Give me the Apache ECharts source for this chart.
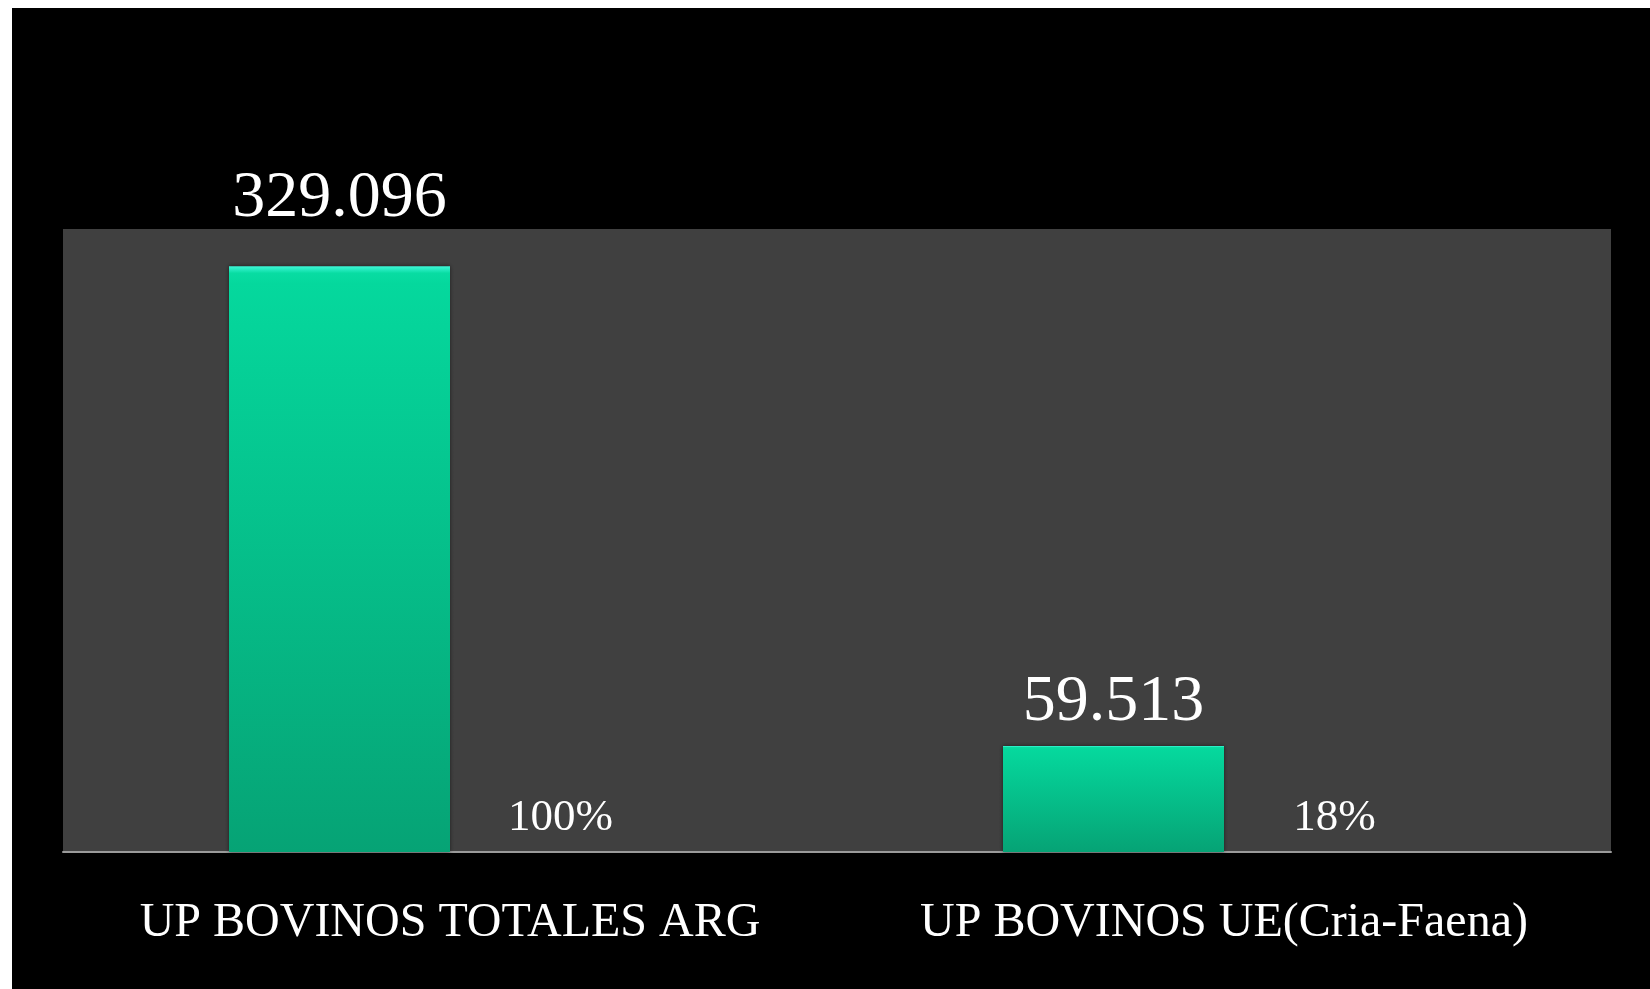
<!DOCTYPE html>
<html>
<head>
<meta charset="utf-8">
<script src="https://cdn.jsdelivr.net/npm/echarts@6/dist/echarts.min.js"></script>
<style>
  html, body { margin: 0; padding: 0; background: #fff; }
  #chart { position: absolute; left: 12px; top: 8px; width: 1638px; height: 981px; background: #000; }
</style>
</head>
<body>
<div id="chart"></div>
<script>
const categories = ['UP BOVINOS TOTALES ARG', 'UP BOVINOS UE(Cria-Faena)']
const unidades = [329096, 59513]
const porcentajes = [100, 18]

// 329096 -> "329.096"
const fmtMiles = v => String(v).replace(/\B(?=(\d{3})+(?!\d))/g, '.')

const barColor = new echarts.graphic.LinearGradient(0, 0, 0, 1, [
  { offset: 0, color: '#3ff7d8' },
  { offset: 0.012, color: '#08dca2' },
  { offset: 0.03, color: '#05d89d' },
  { offset: 1, color: '#06a375' }
])

const chart = echarts.init(document.getElementById('chart'))

chart.setOption({
  backgroundColor: '#000',
  animation: false,
  grid: {
    show: true,
    left: 51,
    right: 39,
    top: 221,
    bottom: 137,
    backgroundColor: '#404040',
    borderWidth: 0
  },
  xAxis: {
    type: 'category',
    data: categories,
    axisLine: { lineStyle: { color: '#9a9a9a', width: 2 } },
    axisTick: { show: false },
    axisLabel: {
      interval: 0,
      color: '#fff',
      fontFamily: 'Liberation Serif',
      fontSize: 48,
      margin: 47
    }
  },
  yAxis: {
    type: 'value',
    min: 0,
    max: 350000,
    show: false,
    splitLine: { show: false }
  },
  series: [
    {
      name: 'UP',
      type: 'bar',
      barWidth: 221,
      barGap: '0%',
      data: unidades.map((v, i) => ({
        value: v,
        label: { distance: i === 0 ? 35 : 10 }
      })),
      itemStyle: {
        color: barColor,
        shadowColor: 'rgba(0,0,0,0.55)',
        shadowBlur: 4
      },
      label: {
        show: true,
        position: 'top',
        color: '#fff',
        fontFamily: 'Liberation Serif',
        fontSize: 66,
        formatter: p => fmtMiles(p.value)
      }
    },
    {
      name: '%',
      type: 'bar',
      barWidth: 221,
      data: porcentajes,
      itemStyle: { color: 'rgba(0,0,0,0)' },
      label: {
        show: true,
        position: 'top',
        distance: 11,
        color: '#fff',
        fontFamily: 'Liberation Serif',
        fontSize: 45,
        formatter: '{c}%'
      }
    }
  ]
})
</script>
</body>
</html>
